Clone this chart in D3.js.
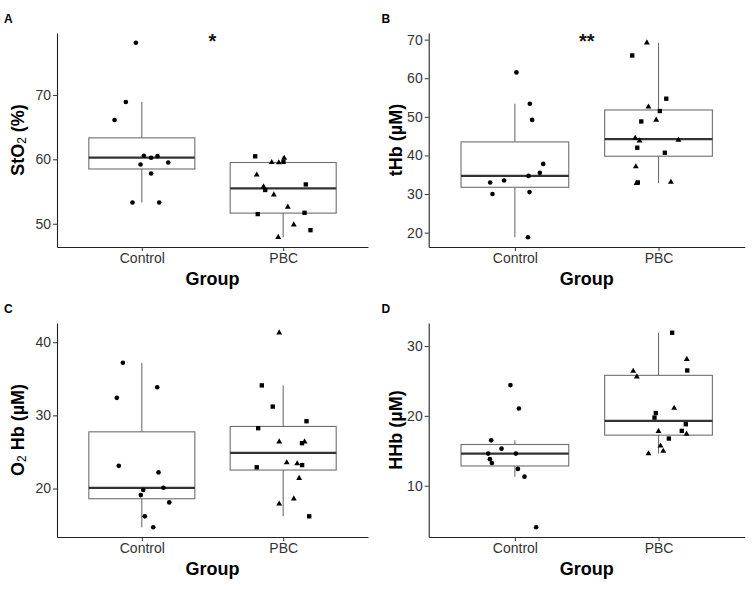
<!DOCTYPE html>
<html>
<head>
<meta charset="utf-8">
<script src="https://cdn.jsdelivr.net/npm/d3@7"></script>
<style>
  body { margin: 0; background: #fff; }
  svg { font-family: "Liberation Sans", Arial, sans-serif; }
</style>
</head>
<body>
<script>
const groups = ['Control', 'PBC'];

// StO2 (%)
const sto2Control = [78.1, 68.9, 66.1, 60.56, 60.25, 60.5, 59.5, 59.2, 57.8, 53.3, 53.3];
const sto2ControlJitter = [-0.042, -0.113, -0.193, 0.014, 0.066, 0.111, 0.187, -0.009, 0.066, -0.066, 0.123];
const sto2Pbc = [60.47, 59.53, 59.5, 60.2, 59.6, 57.6, 56.1, 55.75, 55.24, 54.5, 52.6, 51.5, 51.7, 49.85, 49.0, 47.9];
const sto2PbcJitter = [-0.198, -0.081, -0.031, 0.007, 0.002, -0.187, 0.160, -0.139, -0.127, -0.066, 0.033, -0.180, 0.151, 0.075, 0.193, -0.035];
const sto2PbcShape = ['s', 't', 't', 't', 's', 't', 's', 't', 's', 't', 't', 's', 's', 't', 's', 't'];

// tHb (uM)
const thbControl = [61.5, 53.4, 49.2, 37.8, 35.5, 34.7, 33.5, 33.0, 30.0, 30.5, 18.8];
const thbControlJitter = [0.011, 0.104, 0.120, 0.197, 0.174, 0.095, -0.075, -0.172, -0.156, 0.102, 0.091];
const thbPbc = [69.2, 65.9, 54.7, 52.6, 51.5, 48.8, 49.2, 44.5, 43.8, 44.0, 42.0, 40.7, 37.1, 33.0, 32.8, 33.1];
const thbPbcJitter = [-0.081, -0.183, 0.054, -0.070, 0.009, -0.120, -0.016, -0.162, -0.132, 0.139, -0.148, 0.044, -0.158, -0.144, -0.153, 0.086];
const thbPbcShape = ['t', 's', 's', 't', 's', 's', 't', 't', 't', 't', 's', 's', 't', 's', 't', 't'];

// O2Hb (uM)
const o2hbControl = [37.2, 33.85, 32.4, 23.1, 22.2, 20.1, 19.8, 19.1, 18.1, 16.2, 14.7];
const o2hbControlJitter = [-0.134, 0.109, -0.177, -0.163, 0.118, 0.153, 0.010, -0.007, 0.194, 0.021, 0.081];
const o2hbPbc = [41.3, 34.1, 31.2, 29.2, 28.25, 26.4, 26.2, 26.4, 23.55, 23.4, 23.2, 22.9, 21.4, 18.6, 17.9, 16.2];
const o2hbPbcJitter = [-0.028, -0.151, -0.074, 0.165, -0.177, -0.028, 0.133, 0.151, 0.025, 0.099, 0.134, -0.187, 0.113, 0.075, -0.028, 0.184];
const o2hbPbcShape = ['t', 's', 's', 's', 's', 't', 's', 't', 't', 't', 's', 's', 't', 't', 't', 's'];

// HHb (uM)
const hhbControl = [24.4, 21.05, 16.5, 15.3, 14.6, 14.6, 13.8, 13.25, 12.4, 11.3, 4.05];
const hhbControlJitter = [-0.031, 0.028, -0.165, -0.093, -0.186, 0.007, -0.174, -0.160, 0.021, 0.067, 0.148];
const hhbPbc = [31.9, 28.1, 26.5, 26.4, 25.6, 21.1, 20.4, 19.75, 18.8, 17.85, 17.4, 17.8, 16.75, 15.7, 14.95, 14.6];
const hhbPbcJitter = [0.095, 0.197, 0.200, -0.176, -0.151, 0.109, -0.019, -0.028, 0.190, 0.162, 0.195, 0.000, 0.072, 0.014, 0.033, -0.070];
const hhbPbcShape = ['s', 't', 's', 't', 't', 't', 's', 's', 's', 's', 't', 't', 's', 't', 't', 't'];

const yTicksA = [50, 60, 70];
const yTicksB = [20, 30, 40, 50, 60, 70];
const yTicksC = [20, 30, 40];
const yTicksD = [10, 20, 30];

const sigLabels = ['*', '**', '', ''];
const sigY = [79.1, 71.0, null, null];

const width = 755;
const height = 590;

const svg = d3.select('body').append('svg')
    .attr('width', width)
    .attr('height', height);

const panels = [
    { letter: 'A', ox: 0, oy: 0, left: 57, right: 368, title: ['StO', '2', ' (%)'],
      control: sto2Control, cj: sto2ControlJitter, pbc: sto2Pbc, pj: sto2PbcJitter, ps: sto2PbcShape, ticks: yTicksA },
    { letter: 'B', ox: 377.5, oy: 0, left: 428.7, right: 744.7, title: ['tHb (µM)'],
      control: thbControl, cj: thbControlJitter, pbc: thbPbc, pj: thbPbcJitter, ps: thbPbcShape, ticks: yTicksB },
    { letter: 'C', ox: 0, oy: 290, left: 57, right: 368, title: ['O', '2', ' Hb (µM)'],
      control: o2hbControl, cj: o2hbControlJitter, pbc: o2hbPbc, pj: o2hbPbcJitter, ps: o2hbPbcShape, ticks: yTicksC },
    { letter: 'D', ox: 377.5, oy: 290, left: 428.7, right: 744.7, title: ['HHb (µM)'],
      control: hhbControl, cj: hhbControlJitter, pbc: hhbPbc, pj: hhbPbcJitter, ps: hhbPbcShape, ticks: yTicksD }
];

const boxColor = '#6f6f6f';
const symbols = {
    c: d3.symbol().type(d3.symbolCircle).size(17),
    s: d3.symbol().type(d3.symbolSquare).size(19),
    t: d3.symbol().type(d3.symbolTriangle).size(15)
};

function drawPanel(p, idx) {
    const g = svg.append('g');
    const top = p.oy + 33;
    const bottom = p.oy + 247;

    const x = d3.scaleLinear().domain([0.4, 2.6]).range([p.left, p.right]);
    const [lo, hi] = d3.extent(p.control.concat(p.pbc));
    const pad = (hi - lo) * 0.05;
    const y = d3.scaleLinear().domain([lo - pad, hi + pad]).range([bottom, top]);

    // boxplots
    [p.control, p.pbc].forEach((vals, i) => {
        const s = vals.slice().sort(d3.ascending);
        const q1 = d3.quantile(s, 0.25);
        const med = d3.quantile(s, 0.5);
        const q3 = d3.quantile(s, 0.75);
        const iqr = q3 - q1;
        const wHi = d3.max(s.filter(v => v <= q3 + 1.5 * iqr));
        const wLo = d3.min(s.filter(v => v >= q1 - 1.5 * iqr));
        const cx = x(i + 1);
        const x0 = x(i + 1 - 0.375);
        const x1 = x(i + 1 + 0.375);

        g.append('line')
            .attr('x1', cx).attr('x2', cx)
            .attr('y1', y(q3)).attr('y2', y(wHi))
            .attr('stroke', boxColor).attr('stroke-width', 1.1);
        g.append('line')
            .attr('x1', cx).attr('x2', cx)
            .attr('y1', y(q1)).attr('y2', y(wLo))
            .attr('stroke', boxColor).attr('stroke-width', 1.1);
        g.append('rect')
            .attr('x', x0).attr('y', y(q3))
            .attr('width', x1 - x0).attr('height', y(q1) - y(q3))
            .attr('fill', 'none')
            .attr('stroke', boxColor).attr('stroke-width', 1.1);
        g.append('line')
            .attr('x1', x0).attr('x2', x1)
            .attr('y1', y(med)).attr('y2', y(med))
            .attr('stroke', '#333').attr('stroke-width', 2.2);
    });

    // jittered points
    g.selectAll('path.ctrl')
        .data(p.control)
        .enter()
        .append('path')
        .attr('class', 'ctrl')
        .attr('d', symbols.c)
        .attr('transform', (d, i) => `translate(${x(1 + p.cj[i])},${y(d)})`)
        .attr('fill', '#000');

    g.selectAll('path.pbc')
        .data(p.pbc)
        .enter()
        .append('path')
        .attr('class', 'pbc')
        .attr('d', (d, i) => symbols[p.ps[i]]())
        .attr('transform', (d, i) => `translate(${x(2 + p.pj[i])},${y(d)})`)
        .attr('fill', '#000');

    // axes
    const yAxis = g.append('g')
        .attr('transform', `translate(${p.left},0)`)
        .call(d3.axisLeft(y).tickValues(p.ticks).tickSize(4).tickSizeOuter(0).tickPadding(2));
    const xAxis = g.append('g')
        .attr('transform', `translate(0,${bottom})`)
        .call(d3.axisBottom(x).tickValues([1, 2]).tickFormat(d => groups[d - 1])
            .tickSize(4).tickSizeOuter(0).tickPadding(2.5));

    [yAxis, xAxis].forEach(a => {
        a.select('.domain').attr('stroke', '#222').attr('stroke-width', 1.1);
        a.selectAll('.tick line').attr('stroke', '#333');
        a.selectAll('.tick text')
            .attr('fill', '#333')
            .style('font-size', '14px')
            .style('font-family', '"Liberation Sans", Arial, sans-serif');
    });

    // x title
    g.append('text')
        .attr('x', (p.left + p.right) / 2)
        .attr('y', bottom + 37.5)
        .attr('text-anchor', 'middle')
        .style('font-size', '18px')
        .style('font-weight', 'bold')
        .attr('fill', '#000')
        .text('Group');

    // y title
    const cy = (top + bottom) / 2;
    const tx = p.ox + 18;
    const yt = g.append('text')
        .attr('transform', `translate(${tx},${cy}) rotate(-90)`)
        .attr('text-anchor', 'middle')
        .attr('dominant-baseline', 'central')
        .style('font-size', '18px')
        .style('font-weight', 'bold')
        .attr('fill', '#000');
    if (p.title.length === 1) {
        yt.text(p.title[0]);
    } else {
        yt.append('tspan').text(p.title[0]);
        yt.append('tspan')
            .attr('dy', 4)
            .style('font-size', '12px')
            .style('font-weight', 'normal')
            .text(p.title[1]);
        yt.append('tspan').attr('dy', -4).text(p.title[2]);
    }

    // panel letter
    g.append('text')
        .attr('x', p.ox + 4)
        .attr('y', p.oy + 22.7)
        .style('font-size', '12px')
        .style('font-weight', 'bold')
        .text(p.letter);

    // significance marker
    if (sigLabels[idx]) {
        g.append('text')
            .attr('x', x(1.5))
            .attr('y', y(sigY[idx]) + 12)
            .attr('text-anchor', 'middle')
            .style('font-size', '20px')
            .style('font-weight', 'bold')
            .attr('fill', '#111')
            .text(sigLabels[idx]);
    }
}

panels.forEach(drawPanel);
</script>
</body>
</html>
